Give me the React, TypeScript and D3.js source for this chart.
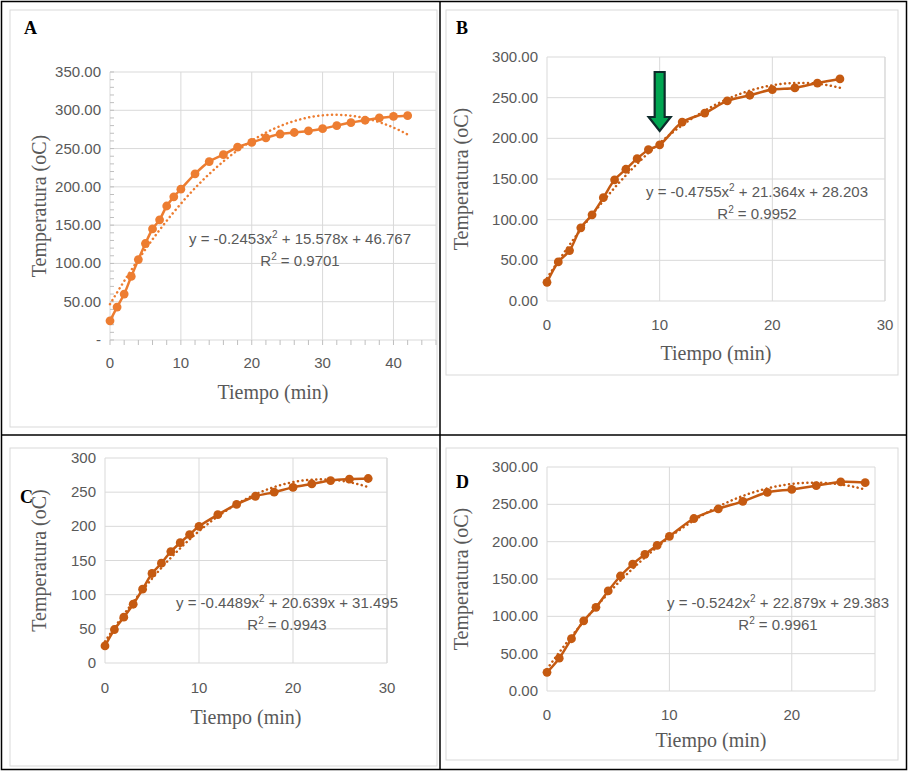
import { useEffect, useRef } from 'react';
import * as d3 from 'd3';

// Panel A
const timeA = [0, 1, 2, 3, 4, 5, 6, 7, 8, 9, 10, 12, 14, 16, 18, 20, 22, 24, 26, 28, 30, 32, 34, 36, 38, 40, 42];
const tempA = [25, 43, 60, 83, 105, 126, 145, 157, 175, 187, 197, 217, 233, 242, 252, 258, 264, 269, 271, 273, 276, 280, 284, 287, 290, 292, 293];
// Panel B
const timeB = [0, 1, 2, 3, 4, 5, 6, 7, 8, 9, 10, 12, 14, 16, 18, 20, 22, 24, 26];
const tempB = [23, 48, 62, 90, 106, 127, 149, 162, 175, 186, 192, 220, 231, 246, 253, 260, 262, 268, 273];
// Panel C
const timeC = [0, 1, 2, 3, 4, 5, 6, 7, 8, 9, 10, 12, 14, 16, 18, 20, 22, 24, 26, 28];
const tempC = [25, 49, 67, 86, 108, 131, 146, 163, 176, 188, 200, 217, 232, 244, 250, 257, 262, 267, 269, 270];
// Panel D
const timeD = [0, 1, 2, 3, 4, 5, 6, 7, 8, 9, 10, 12, 14, 16, 18, 20, 22, 24, 26];
const tempD = [25, 44, 70, 94, 112, 134, 154, 170, 183, 195, 207, 231, 244, 254, 266, 270, 275, 280, 279];

// Trendline coefficients [a, b, c] for y = a x^2 + b x + c
const fitA = [-0.2453, 15.578, 46.767];
const fitB = [-0.4755, 21.364, 28.203];
const fitC = [-0.4489, 20.639, 31.495];
const fitD = [-0.5242, 22.879, 29.383];

interface PanelCfg {
  letter: string;
  letterPos: [number, number];
  time: number[];
  temp: number[];
  fit: number[];
  eq: string;
  r2: string;
  eqPos: [number, number];
  x0: number; x1: number; y0: number; y1: number;
  xMax: number; yMax: number;
  xTicks: number[];
  yTicks: number[];
  yFmt: (v: number) => string;
  ylabX: number;
  xlabY: number;
  xtickY: number;
  color: string;
  minor?: boolean;
  arrowAt?: number;
}

const two = (v: number) => (v === 0 ? '0.00' : v.toFixed(2));

const panels: PanelCfg[] = [
  {
    letter: 'A', letterPos: [24, 34], time: timeA, temp: tempA, fit: fitA,
    eq: '-0.2453x', r2: '0.9701', eqPos: [300, 244],
    x0: 110, x1: 436, y0: 340, y1: 72, xMax: 46, yMax: 350,
    xTicks: [0, 10, 20, 30, 40], yTicks: [0, 50, 100, 150, 200, 250, 300, 350],
    yFmt: v => (v === 0 ? '-' : v.toFixed(2)), ylabX: 46, xlabY: 399, xtickY: 368,
    color: '#ED7D31', minor: true,
  },
  {
    letter: 'B', letterPos: [456, 34], time: timeB, temp: tempB, fit: fitB,
    eq: '-0.4755x', r2: '0.9952', eqPos: [757, 197],
    x0: 547, x1: 885, y0: 301, y1: 57, xMax: 30, yMax: 300,
    xTicks: [0, 10, 20, 30], yTicks: [0, 50, 100, 150, 200, 250, 300],
    yFmt: two, ylabX: 468, xlabY: 360, xtickY: 330,
    color: '#C55A11', arrowAt: 10,
  },
  {
    letter: 'C', letterPos: [20, 503], time: timeC, temp: tempC, fit: fitC,
    eq: '-0.4489x', r2: '0.9943', eqPos: [287, 608],
    x0: 105, x1: 387, y0: 663, y1: 458, xMax: 30, yMax: 300,
    xTicks: [0, 10, 20, 30], yTicks: [0, 50, 100, 150, 200, 250, 300],
    yFmt: v => String(v), ylabX: 46, xlabY: 724, xtickY: 693,
    color: '#C55A11',
  },
  {
    letter: 'D', letterPos: [456, 488], time: timeD, temp: tempD, fit: fitD,
    eq: '-0.5242x', r2: '0.9961', eqPos: [778, 608],
    x0: 547, x1: 875, y0: 691, y1: 467, xMax: 26.8, yMax: 300,
    xTicks: [0, 10, 20], yTicks: [0, 50, 100, 150, 200, 250, 300],
    yFmt: two, ylabX: 468, xlabY: 747, xtickY: 720,
    color: '#C55A11',
  },
];

const restEq: Record<string, string> = {
  A: ' + 15.578x + 46.767',
  B: ' + 21.364x + 28.203',
  C: ' + 20.639x + 31.495',
  D: ' + 22.879x + 29.383',
};

const frames = [[10, 10, 427, 417], [446, 10, 452, 365], [10, 448, 427, 318], [446, 448, 452, 312]];

export default function App() {
  const svgRef = useRef<SVGSVGElement>(null);

  useEffect(() => {
    if (!svgRef.current) return;
    const svg = d3.select(svgRef.current);
    svg.selectAll('*').remove();

    svg.append('rect').attr('width', 908).attr('height', 771).attr('fill', 'white');

    // inner light frames
    frames.forEach(([x, y, w, h]) => {
      svg.append('rect').attr('x', x).attr('y', y).attr('width', w).attr('height', h)
        .attr('fill', 'none').attr('stroke', '#d9d9d9').attr('stroke-width', 1);
    });

    panels.forEach(p => {
      const g = svg.append('g');
      const x = d3.scaleLinear().domain([0, p.xMax]).range([p.x0, p.x1]);
      const y = d3.scaleLinear().domain([0, p.yMax]).range([p.y0, p.y1]);

      // grid
      p.yTicks.forEach(t => {
        g.append('line').attr('x1', p.x0).attr('x2', p.x1).attr('y1', y(t)).attr('y2', y(t))
          .attr('stroke', '#d9d9d9').attr('stroke-width', 1);
      });
      [...p.xTicks, p.xMax].forEach(t => {
        g.append('line').attr('x1', x(t)).attr('x2', x(t)).attr('y1', p.y0).attr('y2', p.y1)
          .attr('stroke', '#d9d9d9').attr('stroke-width', 1);
      });
      if (p.minor) {
        d3.range(0, p.xMax + 0.1, 2).forEach(t => {
          g.append('line').attr('x1', x(t)).attr('x2', x(t)).attr('y1', p.y0).attr('y2', p.y0 + 5)
            .attr('stroke', '#bfbfbf');
        });
        d3.range(0, p.yMax + 0.1, 10).forEach(t => {
          g.append('line').attr('x1', p.x0).attr('x2', p.x0 + 4).attr('y1', y(t)).attr('y2', y(t))
            .attr('stroke', '#bfbfbf');
        });
      }

      // tick labels
      p.yTicks.forEach(t => {
        g.append('text').attr('x', p.x0 - 9).attr('y', y(t) + 5).attr('text-anchor', 'end')
          .attr('font-family', 'Liberation Sans, Arial, sans-serif').attr('font-size', 15)
          .attr('fill', '#595959').text(p.yFmt(t));
      });
      p.xTicks.forEach(t => {
        g.append('text').attr('x', x(t)).attr('y', p.xtickY).attr('text-anchor', 'middle')
          .attr('font-family', 'Liberation Sans, Arial, sans-serif').attr('font-size', 15)
          .attr('fill', '#595959').text(String(t));
      });

      // axis titles
      g.append('text').attr('x', (p.x0 + p.x1) / 2).attr('y', p.xlabY).attr('text-anchor', 'middle')
        .attr('font-family', 'Liberation Serif, Times New Roman, serif').attr('font-size', 20)
        .attr('fill', '#595959').text('Tiempo (min)');
      g.append('text')
        .attr('transform', `translate(${p.ylabX},${(p.y0 + p.y1) / 2}) rotate(-90)`)
        .attr('text-anchor', 'middle')
        .attr('font-family', 'Liberation Serif, Times New Roman, serif').attr('font-size', 20)
        .attr('fill', '#595959').text('Temperatura (oC)');

      g.append('text').attr('x', p.letterPos[0]).attr('y', p.letterPos[1])
        .attr('font-family', 'Liberation Serif, Times New Roman, serif').attr('font-size', 18)
        .attr('font-weight', 'bold').attr('fill', '#000').text(p.letter);

      // trendline
      const tMax = p.time[p.time.length - 1];
      const fitPts = d3.range(0, tMax + 0.001, 0.25).map(t => [t, p.fit[0] * t * t + p.fit[1] * t + p.fit[2]]);
      g.append('path')
        .attr('fill', 'none').attr('stroke', p.color).attr('stroke-width', 2.5)
        .attr('stroke-dasharray', '0.1,4.5').attr('stroke-linecap', 'round')
        .attr('d', d3.line<number[]>().x(d => x(d[0])).y(d => y(d[1]))(fitPts));

      // data line
      const pts = p.time.map((t, i) => [t, p.temp[i]]);
      g.append('path')
        .attr('fill', 'none').attr('stroke', p.color).attr('stroke-width', 2.5)
        .attr('d', d3.line<number[]>().x(d => x(d[0])).y(d => y(d[1])).curve(d3.curveCatmullRom)(pts));
      g.selectAll('circle.pt').data(pts).enter().append('circle')
        .attr('cx', d => x(d[0])).attr('cy', d => y(d[1])).attr('r', 4.4).attr('fill', p.color);

      // equation
      const eq = g.append('text').attr('x', p.eqPos[0]).attr('y', p.eqPos[1]).attr('text-anchor', 'middle')
        .attr('font-family', 'Liberation Sans, Arial, sans-serif').attr('font-size', 15).attr('fill', '#595959');
      eq.append('tspan').text('y = ' + p.eq);
      eq.append('tspan').attr('font-size', 10).attr('dy', -6).text('2');
      eq.append('tspan').attr('dy', 6).text(restEq[p.letter]);
      const r2 = g.append('text').attr('x', p.eqPos[0]).attr('y', p.eqPos[1] + 22).attr('text-anchor', 'middle')
        .attr('font-family', 'Liberation Sans, Arial, sans-serif').attr('font-size', 15).attr('fill', '#595959');
      r2.append('tspan').text('R');
      r2.append('tspan').attr('font-size', 10).attr('dy', -6).text('2');
      r2.append('tspan').attr('dy', 6).text(' = ' + p.r2);

      // arrow annotation
      if (p.arrowAt !== undefined) {
        const ax = x(p.arrowAt);
        const top = 72, bot = 131;
        const path = `M${ax - 5},${top} L${ax + 5},${top} L${ax + 5},${bot - 14} L${ax + 11},${bot - 14} L${ax},${bot} L${ax - 11},${bot - 14} L${ax - 5},${bot - 14} Z`;
        g.append('path').attr('d', path).attr('fill', '#00A651').attr('stroke', '#0d2b2b').attr('stroke-width', 2.2);
      }
    });

    // outer border and dividers
    svg.append('rect').attr('x', 1.5).attr('y', 1.5).attr('width', 905).attr('height', 768)
      .attr('fill', 'none').attr('stroke', '#000').attr('stroke-width', 1.5);
    svg.append('line').attr('x1', 440).attr('x2', 440).attr('y1', 1).attr('y2', 770).attr('stroke', '#000').attr('stroke-width', 1.5);
    svg.append('line').attr('x1', 1).attr('x2', 907).attr('y1', 435).attr('y2', 435).attr('stroke', '#000').attr('stroke-width', 1.5);
  }, []);

  return <svg ref={svgRef} width={908} height={771} style={{ position: 'absolute', left: 0, top: 0 }} />;
}
